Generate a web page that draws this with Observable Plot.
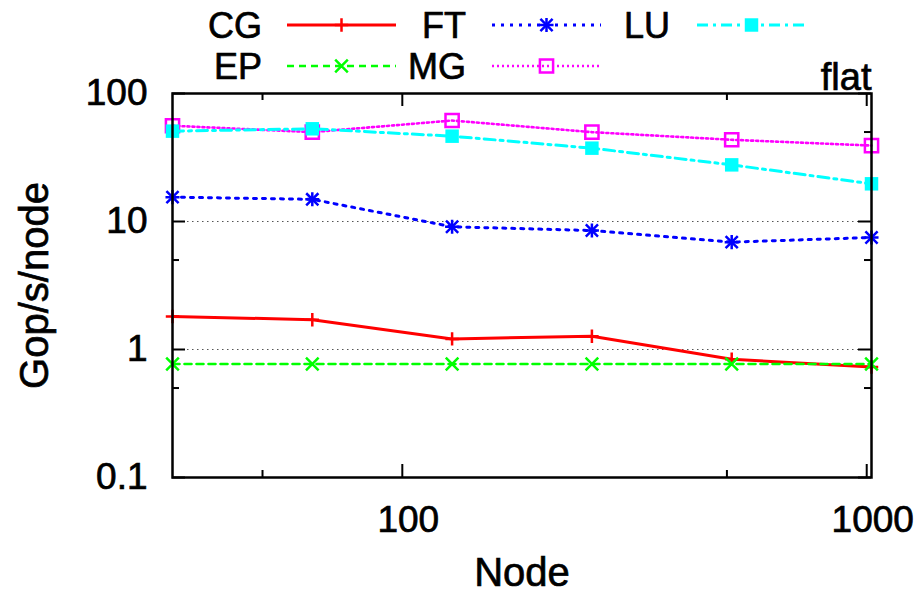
<!DOCTYPE html>
<html><head><meta charset="utf-8">
<script src="https://cdn.jsdelivr.net/npm/d3@7"></script>
<script src="https://cdn.jsdelivr.net/npm/@observablehq/plot@0.6"></script>
<style>
body{margin:0;background:#fff;}
#wrap{position:relative;width:919px;height:595px;font-family:"Liberation Sans",Arial,sans-serif;background:#fff;}
#wrap svg{position:absolute;left:0;top:0;}
#wrap text{stroke:#000;stroke-width:0.7px;fill:#000;}
</style></head><body><div id="wrap"></div>
<script>
// ---- data ----
const nodes = [32, 64, 128, 256, 512, 1024];
const seriesNames = ["CG", "EP", "FT", "MG", "LU"];
const cgValues = [1.81, 1.71, 1.21, 1.27, 0.84, 0.73];
const epValues = [0.77, 0.77, 0.77, 0.77, 0.77, 0.77];
const ftValues = [15.5, 14.9, 9.1, 8.5, 6.9, 7.5];
const mgValues = [56, 49.9, 61.5, 49.9, 43.5, 39.2];
const luValues = [50.8, 53, 46.4, 37.4, 27.7, 19.7];
const xTickLabels = [100, 1000];
const xMinorTicks = [50, 500];
const yTickLabels = [0.1, 1, 10, 100];
const yMinorTicks = [0.5, 5, 50];
const gridValues = [1, 10];
const panelLabel = "flat";
const xTitle = "Node";
const yTitle = "Gop/s/node";

const valuesOf = {CG: cgValues, EP: epValues, FT: ftValues, MG: mgValues, LU: luValues};
const data = seriesNames.flatMap(name => nodes.map((n, i) => ({series: name, node: n, value: valuesOf[name][i]})));

// ---- styles ----
const styles = {
  CG: {color: "#ff0000", dash: null, width: 3, marks: [{symbol: "plus", r: 4.4}]},
  EP: {color: "#00ff00", dash: "7,5", width: 2.6, marks: [{symbol: "times", r: 5.8}]},
  FT: {color: "#0000ff", dash: "3,6", width: 3, marks: [{symbol: "plus", r: 4.6}, {symbol: "times", r: 5.6}]},
  MG: {color: "#ff00ff", dash: "2,3", width: 2.6, marks: [{symbol: "square2", r: 8.4}]},
  LU: {color: "#00ffff", dash: "11,5,3,5", width: 3, marks: [{symbol: "square", r: 7.6, filled: true}]}
};

const W = 919, H = 595, mL = 172, mR = 48, mT = 93, mB = 118;
const fh = H - mT - mB, fw = W - mL - mR;
const majorLen = 13, minorLen = 7;
const font = '"Liberation Sans", Arial, sans-serif';

const seriesMarks = seriesNames.flatMap(name => {
  const st = styles[name];
  const rows = data.filter(d => d.series === name);
  const out = [Plot.line(rows, {x: "node", y: "value", stroke: st.color, strokeWidth: st.width, strokeDasharray: st.dash, curve: "linear"})];
  for (const m of st.marks) {
    out.push(Plot.dot(rows, m.filled
      ? {x: "node", y: "value", symbol: m.symbol, r: m.r, fill: st.color, stroke: "none"}
      : {x: "node", y: "value", symbol: m.symbol, r: m.r, stroke: st.color, strokeWidth: 2.5, fill: "none"}));
  }
  return out;
});

const chart = Plot.plot({
  width: W, height: H,
  marginLeft: mL, marginRight: mR, marginTop: mT, marginBottom: mB,
  x: {type: "log", domain: [32, 1024]},
  y: {type: "log", domain: [0.1, 100]},
  style: {fontFamily: font, color: "black", background: "white"},
  marks: [
    Plot.ruleY(gridValues, {stroke: "#555", strokeWidth: 1.2, strokeDasharray: "1.5,3.5"}),
    // inward ticks (bottom/top/left/right)
    Plot.ruleX(xTickLabels, {insetTop: fh - majorLen, strokeWidth: 2}),
    Plot.ruleX(xTickLabels, {insetBottom: fh - majorLen, strokeWidth: 2}),
    Plot.ruleX(xMinorTicks, {insetTop: fh - minorLen, strokeWidth: 2}),
    Plot.ruleX(xMinorTicks, {insetBottom: fh - minorLen, strokeWidth: 2}),
    Plot.ruleY(yTickLabels, {insetRight: fw - majorLen, strokeWidth: 2}),
    Plot.ruleY(yTickLabels, {insetLeft: fw - majorLen, strokeWidth: 2}),
    Plot.ruleY(yMinorTicks, {insetRight: fw - minorLen, strokeWidth: 2}),
    Plot.ruleY(yMinorTicks, {insetLeft: fw - minorLen, strokeWidth: 2}),
    ...seriesMarks,
    Plot.frame({stroke: "black", strokeWidth: 2.5}),
    Plot.axisX({ticks: xTickLabels, tickSize: 0, tickPadding: 28, tickFormat: d => String(d), fontSize: 37, dx: 6, label: null}),
    Plot.axisY({ticks: yTickLabels, tickSize: 0, tickPadding: 25, tickFormat: d => String(d), fontSize: 37, label: null}),
    Plot.text([xTitle], {frameAnchor: "bottom", dy: 108, fontSize: 40, text: d => d}),
    Plot.text([yTitle], {frameAnchor: "left", textAnchor: "middle", rotate: -90, dx: -137, fontSize: 40, text: d => d}),
    Plot.text([panelLabel], {frameAnchor: "top-right", textAnchor: "end", lineAnchor: "bottom", dy: -4, fontSize: 38, text: d => d})
  ]
});
const wrap = document.getElementById("wrap");
wrap.appendChild(chart);

// ---- legend overlay ----
const symbolTypes = {plus: d3.symbolPlus, times: d3.symbolTimes, square: d3.symbolSquare, square2: d3.symbolSquare2};
const leg = d3.create("svg").attr("width", W).attr("height", mT - 2).style("pointer-events", "none");
seriesNames.forEach((name, i) => {
  const st = styles[name];
  const col = Math.floor(i / 2), row = i % 2;
  const y = 25 + row * 41;
  const labelRight = 262 + col * 204;
  const x1 = 287 + col * 205, x2 = 396 + col * 205;
  leg.append("text").attr("x", labelRight).attr("y", y + 13).attr("text-anchor", "end")
    .attr("font-size", 36).attr("font-family", font).text(name);
  leg.append("line").attr("x1", x1).attr("x2", x2).attr("y1", y).attr("y2", y)
    .attr("stroke", st.color).attr("stroke-width", st.width).attr("stroke-dasharray", st.dash);
  for (const m of st.marks) {
    const p = d3.symbol(symbolTypes[m.symbol], Math.PI * m.r * m.r)();
    const g = leg.append("path").attr("d", p).attr("transform", `translate(${(x1 + x2) / 2},${y})`);
    if (m.filled) g.attr("fill", st.color);
    else g.attr("fill", "none").attr("stroke", st.color).attr("stroke-width", 2.5);
  }
});
wrap.appendChild(leg.node());
</script>
</body></html>
